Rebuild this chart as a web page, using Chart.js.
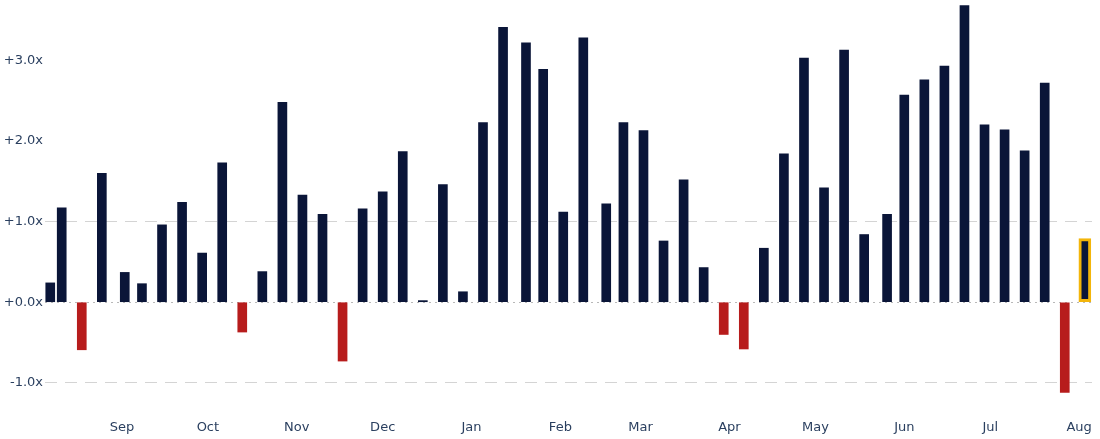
<!DOCTYPE html>
<html>
<head>
<meta charset="utf-8">
<script src="https://cdn.jsdelivr.net/npm/chart.js@4.4.1/dist/chart.umd.min.js"></script>
<style>
  body { margin: 0; background: #ffffff; }
  .chart-box { width: 1100px; height: 439px; }
</style>
</head>
<body>
<div class="chart-box"><canvas id="weeklyChart"></canvas></div>
<script>
// weekly readings (date of week, multiple)
const weekDates = [
    "2025-08-07", "2025-08-11", "2025-08-18", "2025-08-25", "2025-09-02", "2025-09-08",
    "2025-09-15", "2025-09-22", "2025-09-29", "2025-10-06", "2025-10-13", "2025-10-20",
    "2025-10-27", "2025-11-03", "2025-11-10", "2025-11-17", "2025-11-24", "2025-12-01",
    "2025-12-08", "2025-12-15", "2025-12-22", "2025-12-29", "2026-01-05", "2026-01-12",
    "2026-01-20", "2026-01-26", "2026-02-02", "2026-02-09", "2026-02-17", "2026-02-23",
    "2026-03-02", "2026-03-09", "2026-03-16", "2026-03-23", "2026-03-30", "2026-04-06",
    "2026-04-13", "2026-04-20", "2026-04-27", "2026-05-04", "2026-05-11", "2026-05-18",
    "2026-05-26", "2026-06-01", "2026-06-08", "2026-06-15", "2026-06-22", "2026-06-29",
    "2026-07-06", "2026-07-13", "2026-07-20", "2026-07-27"
];
const weekValues = [
    0.24, 1.17, -0.59, 1.60, 0.37, 0.23,
    0.96, 1.24, 0.61, 1.73, -0.37, 0.38,
    2.48, 1.33, 1.09, -0.73, 1.16, 1.37,
    1.87, 0.02, 1.46, 0.13, 2.23, 3.41,
    3.22, 2.89, 1.12, 3.28, 1.22, 2.23,
    2.13, 0.76, 1.52, 0.43, -0.40, -0.58,
    0.67, 1.84, 3.03, 1.42, 3.13, 0.84,
    1.09, 2.57, 2.76, 2.93, 3.68, 2.20,
    2.14, 1.88, 2.72, -1.12
];
// current (highlighted) week
const currentDates = ["2026-08-03"];
const currentValues = [0.79];

const monthTickDates = [
    "2025-09-01", "2025-10-01", "2025-11-01", "2025-12-01", "2026-01-01", "2026-02-01",
    "2026-03-01", "2026-04-01", "2026-05-01", "2026-06-01", "2026-07-01", "2026-08-01"
];
const monthTickLabels = ["Sep", "Oct", "Nov", "Dec", "Jan", "Feb", "Mar", "Apr", "May", "Jun", "Jul", "Aug"];
const yTickValues = [-1, 0, 1, 2, 3];

const navy = "#0a1538";
const red = "#b71c1c";
const amber = "#f3b50a";
const textColor = "#2a3f5f";

const weeklyBarBuilder = (canvasId) => {
    try {
        let canvasObject = document.getElementById(canvasId);
        if (canvasObject === null) return;

        const toTime = (d) => Date.parse(d + "T00:00:00Z");
        let weekPoints = weekDates.map((d, i) => ({ x: toTime(d), y: weekValues[i] }));
        let currentPoints = currentDates.map((d, i) => ({ x: toTime(d), y: currentValues[i] }));
        let barColors = weekValues.map(v => v < 0 ? red : navy);
        let monthTicks = monthTickDates.map(toTime);

        Chart.defaults.font.family = "'DejaVu Sans', Verdana, sans-serif";
        Chart.defaults.font.size = 13;
        Chart.defaults.color = textColor;

        new Chart(canvasObject, {
            type: "bar",
            data: {
                datasets: [
                    {
                        label: "weekly",
                        data: weekPoints,
                        backgroundColor: barColors,
                        borderWidth: 0,
                        barThickness: 9,
                        grouped: false,
                    },
                    {
                        label: "current",
                        data: currentPoints,
                        backgroundColor: navy,
                        borderColor: amber,
                        borderWidth: 3,
                        borderSkipped: false,
                        barThickness: 12,
                        grouped: false,
                    }
                ],
            },
            options: {
                responsive: true,
                maintainAspectRatio: false,
                animation: false,
                layout: { padding: { top: 0, right: 8, left: 0, bottom: 0 } },
                scales: {
                    x: {
                        type: "linear",
                        offset: false,
                        min: Date.UTC(2025, 7, 5, 4),
                        max: Date.UTC(2026, 7, 5, 12),
                        grid: { display: false, drawTicks: false },
                        border: { display: false },
                        afterBuildTicks: (scale) => {
                            scale.ticks = monthTicks.map(v => ({ value: v }));
                        },
                        afterFit: (scale) => {
                            scale.height = 32;
                            scale.paddingLeft = 0;
                            scale.paddingRight = 0;
                        },
                        ticks: {
                            autoSkip: false,
                            maxRotation: 0,
                            padding: 13,
                            callback: (value, index) => monthTickLabels[index],
                        }
                    },
                    y: {
                        min: -1.3,
                        max: 3.75,
                        afterBuildTicks: (scale) => {
                            scale.ticks = yTickValues.map(v => ({ value: v }));
                        },
                        afterFit: (scale) => {
                            scale.width = 45;
                            scale.paddingTop = 0;
                            scale.paddingBottom = 0;
                        },
                        grid: {
                            drawTicks: false,
                            lineWidth: 1,
                            color: (ctx) => {
                                let v = ctx.tick ? ctx.tick.value : null;
                                if (v === 0) return "#b8b8b8";
                                if (v === 1 || v === -1) return "#d4d4d4";
                                return "rgba(0,0,0,0)";
                            },
                        },
                        border: {
                            display: false,
                            dash: (ctx) => (ctx.tick && ctx.tick.value === 0) ? [2, 4] : [12, 8],
                        },
                        ticks: {
                            padding: 2,
                            callback: (v) => (v >= 0 ? "+" : "") + v.toFixed(1) + "x",
                        }
                    }
                },
                plugins: {
                    legend: { display: false },
                    tooltip: { enabled: false },
                }
            },
        });
    } catch (error) {
        console.log(error.message);
    }
};

weeklyBarBuilder("weeklyChart");
</script>
</body>
</html>
